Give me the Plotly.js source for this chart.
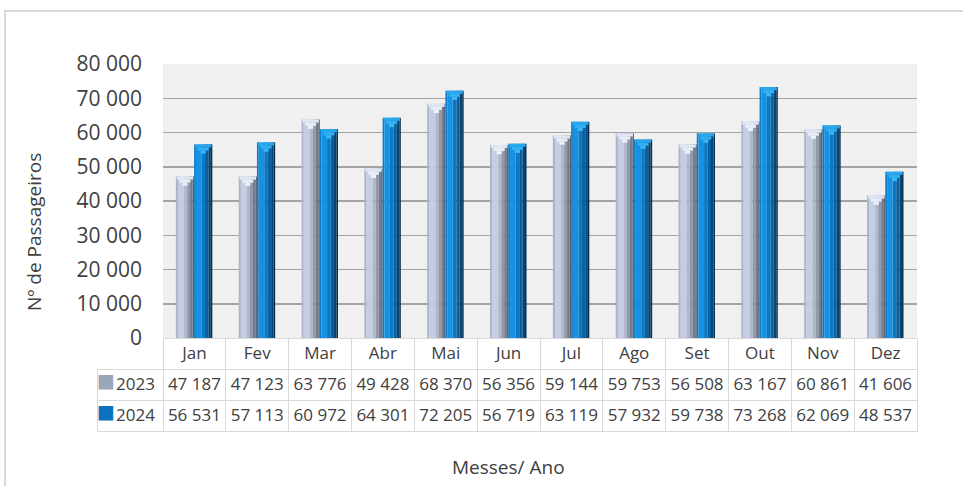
<!DOCTYPE html>
<html><head><meta charset="utf-8">
<script src="https://cdn.plot.ly/plotly-3.0.1.min.js"></script>
<style>html,body{margin:0;padding:0;background:#fff}#chart{width:963px;height:486px}</style>
</head><body><div id="chart"></div>
<script>
const months = ['Jan','Fev','Mar','Abr','Mai','Jun','Jul','Ago','Set','Out','Nov','Dez'];
const series2023 = [47187,47123,63776,49428,68370,56356,59144,59753,56508,63167,60861,41606];
const series2024 = [56531,57113,60972,64301,72205,56719,63119,57932,59738,73268,62069,48537];
const seriesNames = ['2023','2024'];
const yTickVals = [0,10000,20000,30000,40000,50000,60000,70000,80000];
const yTickText = ['0','10 000','20 000','30 000','40 000','50 000','60 000','70 000','80 000'];
const yTitle = 'Nº de Passageiros';
const xTitle = 'Messes/ Ano';

const W = 963, H = 486;
const FONT = 'Open Sans, Noto Sans, sans-serif';
const TXT = '#404040';
const GRID = '#d9d9d9';
const CLEAR = 'rgba(0,0,0,0)';

// style only: pseudo-gradient strips as fractions of bar width
const strips2023 = [[0,0.12,'#aab4ca'],[0.12,0.45,'#c4cde2'],[0.45,0.62,'#aeb7cb'],[0.62,0.78,'#9098a9'],[0.78,0.92,'#747b8a'],[0.92,1,'#5c6270']];
const strips2024 = [[0,0.1,'#0e7ccb'],[0.1,0.4,'#1592e2'],[0.4,0.6,'#0b78c4'],[0.6,0.78,'#08609f'],[0.78,0.92,'#064677'],[0.92,1,'#04304f']];
const caps2023 = [[0,900,0.9,'#dfe5f2'],[900,1800,0.6,'#e8edf7'],[1800,2700,0.28,'#eef2fa']];
const caps2024 = [[0,900,0.9,'#2aa6ec'],[900,1800,0.6,'#33b0f2'],[1800,2700,0.28,'#3cb8f6']];

const traces = [];
function addSeries(name, vals, gOff, gW, strips, caps) {
  strips.forEach(([f0,f1,c]) => traces.push({
    type:'bar', name:name, x:months, y:vals, offset:gOff+f0*gW, width:(f1-f0)*gW,
    marker:{color:c, line:{width:0}}, showlegend:false, hoverinfo:'x+y'
  }));
  caps.forEach(([d1,d2,w,c]) => traces.push({
    type:'bar', name:name, x:months, base:vals.map(v=>v-d2), y:vals.map(v=>d2-d1),
    offset:gOff+(1-w)/2*gW, width:w*gW,
    marker:{color:c, line:{width:0}}, showlegend:false, hoverinfo:'skip'
  }));
}
addSeries(seriesNames[0], series2023, -0.295, 0.29, strips2023, caps2023);
addSeries(seriesNames[1], series2024, -0.005, 0.29, strips2024, caps2024);

const fmt = v => String(v).replace(/\B(?=(\d{3})+(?!\d))/g, '\u00a0');
const tableDomainY = [1-433/H, 1-338/H];

// data table
traces.push({
  type:'table',
  domain:{x:[97/W, 917/W], y:tableDomainY},
  columnwidth:[66].concat(months.map(()=>62.83)),
  header:{
    values:[''].concat(months),
    height:31,
    align:'center',
    font:{family:FONT, size:17, color:TXT},
    line:{color:[CLEAR].concat(months.map(()=>GRID)), width:1},
    fill:{color:[CLEAR].concat(months.map(()=> '#ffffff'))}
  },
  cells:{
    values:[seriesNames].concat(months.map((m,i)=>[fmt(series2023[i]), fmt(series2024[i])])),
    height:31,
    align:['right'].concat(months.map(()=> 'center')),
    font:{family:FONT, size:17, color:TXT},
    line:{color:GRID, width:1},
    fill:{color:'#ffffff'}
  }
});
// legend keys inside the table's first column
traces.push({
  type:'table',
  domain:{x:[97/W, 115/W], y:[1-429/H, 1-334/H]},
  header:{values:[''], height:31, line:{color:CLEAR, width:0}, fill:{color:CLEAR}},
  cells:{
    values:[['■','■']],
    height:31,
    align:'center',
    font:{family:'DejaVu Sans, sans-serif', size:19, color:[['#9ba6bb','#0a74c0']]},
    line:{color:CLEAR, width:0},
    fill:{color:CLEAR}
  }
});

const layout = {
  width:W, height:H,
  margin:{l:0,r:0,t:0,b:0},
  paper_bgcolor:'#ffffff', plot_bgcolor:'#f0f0f0',
  barmode:'overlay',
  showlegend:false,
  font:{family:FONT, color:TXT},
  xaxis:{domain:[163/W, 917/W], type:'category', showticklabels:false, showgrid:false, zeroline:false, showline:false, ticks:''},
  yaxis:{domain:[1-338/H, 1-64/H], range:[0,80000], tickvals:yTickVals, ticktext:yTickText,
         showgrid:true, gridcolor:'#a3a3a3', gridwidth:1.5, zeroline:false, showline:false, ticks:'',
         ticklabelstandoff:20, tickfont:{family:FONT, size:21, color:TXT}},
  shapes:[{type:'rect', xref:'paper', yref:'paper', x0:5/W, x1:1.05, y0:-0.05, y1:1-11/H,
           line:{color:GRID, width:2}, fillcolor:CLEAR, layer:'below'}],
  annotations:[
    {text:yTitle, xref:'paper', yref:'paper', x:34/W, y:1-232/H, textangle:-90, showarrow:false,
     xanchor:'center', yanchor:'middle', font:{family:FONT, size:19, color:TXT}},
    {text:xTitle, xref:'paper', yref:'paper', x:508/W, y:1-467/H, showarrow:false,
     xanchor:'center', yanchor:'middle', font:{family:FONT, size:19, color:TXT}}
  ]
};
Plotly.newPlot('chart', traces, layout, {displayModeBar:false, staticPlot:true});
</script></body></html>
